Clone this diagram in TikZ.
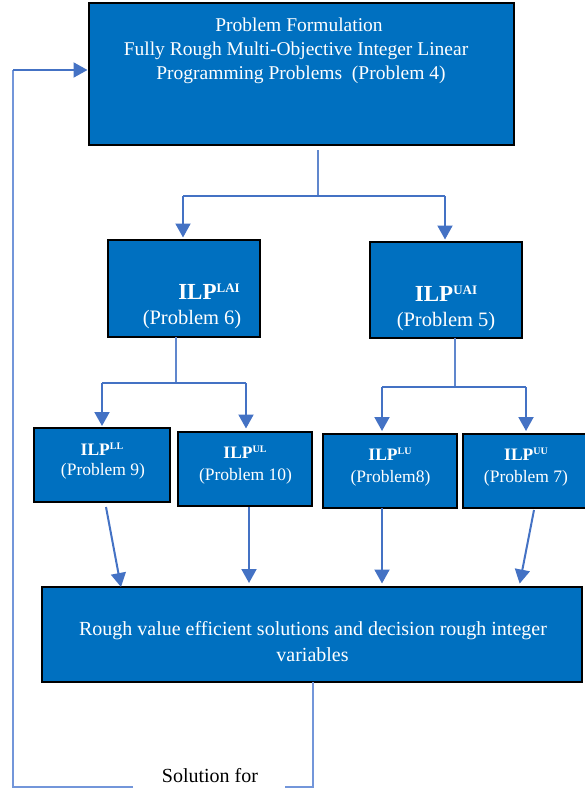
\documentclass[tikz,border=0pt]{standalone}
\usepackage{fontspec}
\setmainfont{Liberation Serif}
\usetikzlibrary{arrows.meta,calc}
\definecolor{boxblue}{HTML}{0070C0}
\definecolor{arrblue}{HTML}{4472C4}
\definecolor{loopblue}{HTML}{7396DA}
\newcommand{\bigilp}[1]{{\fontsize{23}{26}\selectfont\bfseries ILP\raisebox{7pt}{\fontsize{13}{13}\selectfont #1}}}
\newcommand{\smallilp}[1]{{\fontsize{17.5}{20}\selectfont\bfseries ILP\raisebox{5.5pt}{\fontsize{10}{10}\selectfont #1}}}
\begin{document}
\begin{tikzpicture}[x=1pt,y=-1pt,
  box/.style={draw=black,line width=1.3pt,fill=boxblue,inner sep=0pt,outer sep=0pt},
  wtxt/.style={text=white,inner sep=0pt,anchor=base},
  btxt/.style={text=white,inner sep=0pt,anchor=base,font=\fontsize{19.5}{22}\selectfont},
  ltxt/.style={text=white,inner sep=0pt,anchor=base,font=\fontsize{20}{22}\selectfont},
  ptxt/.style={text=white,inner sep=0pt,anchor=base,font=\fontsize{17.5}{20}\selectfont},
  arr/.style={draw=arrblue,line width=2pt,-{Triangle[length=14pt,width=15pt]}},
  joinline/.style={draw=arrblue,line width=2pt},
  stem/.style={draw=arrblue!85,line width=1.2pt},
  loopline/.style={draw=loopblue,line width=1.2pt}]
\useasboundingbox (0,0) rectangle (585,789);

% boxes
\node[box,minimum width=425pt,minimum height=142pt] (top) at (301.5,74) {};
\node[box,minimum width=152pt,minimum height=97pt] (lai) at (184,288.5) {};
\node[box,minimum width=152pt,minimum height=96pt] (uai) at (446,290) {};
\node[box,minimum width=136pt,minimum height=74pt] (ll) at (102,465) {};
\node[box,minimum width=134pt,minimum height=74pt] (ul) at (245,469) {};
\node[box,minimum width=134pt,minimum height=74pt] (lu) at (390,471) {};
\node[box,minimum width=126pt,minimum height=74pt] (uu) at (526,471) {};
\node[box,minimum width=540pt,minimum height=95pt] (bot) at (312,634.5) {};

% texts
\node[btxt] (t1) at (299,32) {Problem Formulation};
\node[btxt] (t2) at (296,56) {Fully Rough Multi-Objective Integer Linear};
\node[btxt] (t3) at (301,80) {Programming Problems\ \ (Problem 4)};

\node[wtxt] (laiA) at (209,299) {\bigilp{LAI}};
\node[wtxt,font=\fontsize{20.5}{22}\selectfont] (laiB) at (192,324) {(Problem 6)};
\node[wtxt] (uaiA) at (446,301) {\bigilp{UAI}};
\node[wtxt,font=\fontsize{20.5}{22}\selectfont] (uaiB) at (446,326) {(Problem 5)};

\node[wtxt] (llA) at (102,455) {\smallilp{LL}};
\node[ptxt] (llB) at (103,475) {(Problem 9)};
\node[wtxt] (ulA) at (245,458) {\smallilp{UL}};
\node[ptxt] (ulB) at (245.5,480) {(Problem 10)};
\node[wtxt] (luA) at (390,460) {\smallilp{LU}};
\node[ptxt] (luB) at (390.5,482) {(Problem8)};
\node[wtxt] (uuA) at (526,460) {\smallilp{UU}};
\node[ptxt] (uuB) at (526,482) {(Problem 7)};

\node[ltxt] (b1) at (313,635) {Rough value efficient solutions and decision rough integer};
\node[ltxt] (b2) at (312.5,661) {variables};

\node[inner sep=0pt,anchor=base,font=\fontsize{20}{22}\selectfont] (sol) at (210,782) {Solution for};

% top split
\coordinate (s0) at (318,150);
\coordinate (s1) at (318,196);
\coordinate (sl) at (183,196);
\coordinate (sr) at (445,196);
\draw[stem] (s0) -- (s1);
\draw[joinline] (sl) -- (sr);
\draw[arr,shorten >=2.5pt] (sl) -- (sl |- lai.north);
\draw[arr,shorten >=2.5pt] (sr) -- (sr |- uai.north);

% LAI split
\coordinate (a1) at (176,383);
\coordinate (al) at (102,383);
\coordinate (ar) at (246,383);
\draw[stem] (lai.south -| a1) -- (a1);
\draw[joinline] (al) -- (ar);
\draw[arr,shorten >=2pt] (al) -- (al |- ll.north);
\draw[arr,shorten >=3.5pt] (ar) -- (ar |- ul.north);

% UAI split
\coordinate (u1) at (455,387);
\coordinate (ul0) at (382,387);
\coordinate (ur0) at (526,387);
\draw[stem] (uai.south -| u1) -- (u1);
\draw[joinline] (ul0) -- (ur0);
\draw[arr,shorten >=3pt] (ul0) -- (ul0 |- lu.north);
\draw[arr,shorten >=3pt] (ur0) -- (ur0 |- uu.north);

% to bottom box
\coordinate (d1s) at (106,507);
\coordinate (d1e) at (121,587);
\coordinate (d2s) at (249,507);
\coordinate (d3s) at (382,508);
\coordinate (d4s) at (534,510);
\coordinate (d4e) at (519,587);
\draw[arr] (d1s) -- (d1e);
\draw[arr,shorten >=4pt] (d2s) -- (d2s |- bot.north);
\draw[arr,shorten >=3.5pt] (d3s) -- (d3s |- bot.north);
\draw[arr,shorten >=3.5pt] (d4s) -- (d4e);

% feedback loop
\coordinate (f1) at (313,787);
\coordinate (f2) at (285,787);
\coordinate (f3) at (133,787);
\coordinate (f4) at (13,787);
\coordinate (f5) at (13,70);
\draw[loopline] (bot.south -| f1) -- (f1) -- (f2);
\draw[loopline] (f3) -- (f4) -- (f5);
\draw[arr,shorten >=1.5pt] (f5) -- (top.west |- f5);
\end{tikzpicture}
\end{document}
